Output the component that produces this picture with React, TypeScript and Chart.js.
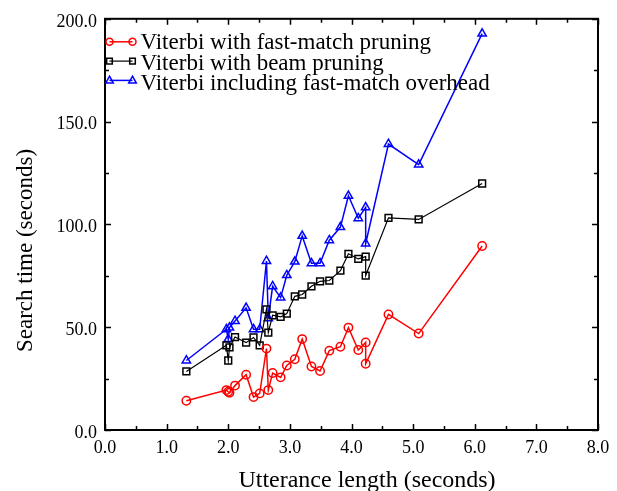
import { useEffect, useRef } from "react";
import { Chart, registerables } from "chart.js";

Chart.register(...registerables);

// Utterance length (seconds), shared x values of all three series
const utteranceLength = [
  1.32, 1.97, 2.0, 2.02, 2.11, 2.29, 2.41, 2.51, 2.62, 2.65, 2.72, 2.85, 2.95,
  3.08, 3.2, 3.35, 3.49, 3.64, 3.82, 3.95, 4.11, 4.23, 4.23, 4.6, 5.09, 6.12,
];

// Search time (seconds)
const fastMatchPruning = [
  14.2, 19.4, 18.6, 18.1, 21.6, 26.9, 16.0, 17.8, 39.6, 19.4, 27.7, 25.6, 31.4,
  34.4, 44.2, 30.9, 28.7, 38.6, 40.5, 49.8, 38.9, 42.6, 32.2, 56.2, 46.9, 89.5,
];
const beamPruning = [
  28.5, 41.2, 33.8, 40.2, 45.2, 42.5, 45.0, 41.2, 58.7, 47.4, 55.8, 55.0, 56.6,
  65.0, 65.9, 69.9, 72.3, 72.7, 77.5, 85.7, 83.2, 84.3, 75.1, 103.2, 102.4, 119.9,
];
const fastMatchOverhead = [
  33.8, 49.0, 44.2, 49.8, 53.0, 59.4, 49.0, 49.0, 82.2, 54.3, 69.9, 64.4, 75.3,
  81.9, 94.4, 81.1, 81.1, 92.3, 98.7, 113.9, 103.0, 108.3, 90.7, 139.1, 129.1, 192.8,
];

const seriesLabels = [
  "Viterbi with fast-match pruning",
  "Viterbi with beam pruning",
  "Viterbi including fast-match overhead",
];
const seriesColors = ["#ff0000", "#000000", "#0000ff"];
const seriesStyles = ["circle", "rect", "triangle"];

const xTitle = "Utterance length (seconds)";
const yTitle = "Search time (seconds)";

const xMajorTicks = [0, 1, 2, 3, 4, 5, 6, 7, 8];
const xMinorTicks = [0.5, 1.5, 2.5, 3.5, 4.5, 5.5, 6.5, 7.5];
const yMajorTicks = [0, 50, 100, 150, 200];
const yMinorTicks = [25, 75, 125, 175];

const FONT = '"Liberation Serif", "Times New Roman", serif';

function drawMarker(ctx: CanvasRenderingContext2D, style: string, x: number, y: number, s: number) {
  ctx.beginPath();
  if (style === "circle") {
    ctx.arc(x, y, s, 0, Math.PI * 2);
  } else if (style === "rect") {
    ctx.rect(x - s, y - s, 2 * s, 2 * s);
  } else {
    ctx.moveTo(x, y - s * 1.1);
    ctx.lineTo(x + s, y + s * 0.7);
    ctx.lineTo(x - s, y + s * 0.7);
    ctx.closePath();
  }
  ctx.stroke();
}

const framePlugin = {
  id: "frame",
  afterDraw(chart: any) {
    const { ctx, chartArea: a, scales } = chart;
    const xs = scales.x;
    const ys = scales.y;
    ctx.save();
    ctx.strokeStyle = "#000";
    ctx.lineWidth = 2;
    ctx.strokeRect(a.left, a.top, a.right - a.left, a.bottom - a.top);
    ctx.lineWidth = 1.5;
    const tick = (vals: number[], len: number, horiz: boolean) => {
      for (const v of vals) {
        ctx.beginPath();
        if (horiz) {
          const px = Math.round(xs.getPixelForValue(v)) + 0.5;
          ctx.moveTo(px, a.bottom);
          ctx.lineTo(px, a.bottom - len);
          ctx.moveTo(px, a.top);
          ctx.lineTo(px, a.top + len);
        } else {
          const py = Math.round(ys.getPixelForValue(v)) + 0.5;
          ctx.moveTo(a.left, py);
          ctx.lineTo(a.left + len, py);
          ctx.moveTo(a.right, py);
          ctx.lineTo(a.right - len, py);
        }
        ctx.stroke();
      }
    };
    tick(xMajorTicks, 6, true);
    tick(xMinorTicks, 4, true);
    tick(yMajorTicks, 6, false);
    tick(yMinorTicks, 4, false);

    // axis titles
    ctx.fillStyle = "#000";
    ctx.textAlign = "center";
    ctx.textBaseline = "alphabetic";
    ctx.font = `24px ${FONT}`;
    ctx.fillText(xTitle, 367, 486.5);
    ctx.font = `23px ${FONT}`;
    ctx.save();
    ctx.translate(32, 250.5);
    ctx.rotate(-Math.PI / 2);
    ctx.fillText(yTitle, 0, 0);
    ctx.restore();

    // legend inside the plot
    ctx.font = `23px ${FONT}`;
    ctx.textAlign = "left";
    const x0 = a.left + 4.5;
    const x1 = a.left + 27.5;
    seriesLabels.forEach((label, i) => {
      const my = a.top + 23 + i * 19.3;
      ctx.strokeStyle = seriesColors[i];
      ctx.lineWidth = i === 1 ? 1.2 : 1.5;
      ctx.beginPath();
      ctx.moveTo(x0, my);
      ctx.lineTo(x1, my);
      ctx.stroke();
      ctx.lineWidth = 1.5;
      const s = i === 0 ? 3.5 : i === 1 ? 2.8 : 3.8;
      drawMarker(ctx, seriesStyles[i], x0, my, s);
      drawMarker(ctx, seriesStyles[i], x1, my, s);
      ctx.fillStyle = "#000";
      ctx.fillText(label, a.left + 35.5, a.top + 30 + i * 20.8);
    });
    ctx.restore();
  },
};

function makeData(ys: number[]) {
  return utteranceLength.map((x, i) => ({ x, y: ys[i] }));
}

export default function App() {
  const ref = useRef<HTMLCanvasElement | null>(null);

  useEffect(() => {
    document.body.style.margin = "0";
    const canvas = ref.current;
    if (!canvas) return;
    const series = [fastMatchPruning, beamPruning, fastMatchOverhead];
    const chart = new Chart(canvas, {
      type: "line",
      data: {
        datasets: series.map((ys, i) => ({
          label: seriesLabels[i],
          data: makeData(ys),
          borderColor: seriesColors[i],
          borderWidth: i === 1 ? 1.2 : 1.5,
          pointStyle: seriesStyles[i] as any,
          pointRadius: i === 0 ? 4.2 : i === 1 ? 4.8 : 4.8,
          pointBorderWidth: 1.5,
          pointBorderColor: seriesColors[i],
          pointBackgroundColor: "rgba(0,0,0,0)",
          fill: false,
          tension: 0,
          clip: false as any,
        })),
      },
      options: {
        responsive: false,
        animation: false,
        layout: { padding: { left: 0, right: 19, top: 16, bottom: 0 } },
        plugins: {
          legend: { display: false },
          tooltip: { enabled: false },
        },
        scales: {
          x: {
            type: "linear",
            min: 0,
            max: 8,
            grid: { display: false, drawTicks: false },
            border: { display: false },
            ticks: {
              stepSize: 1,
              autoSkip: false,
              maxRotation: 0,
              padding: 7,
              color: "#000",
              font: { family: FONT, size: 18 },
              callback: (v: any) => Number(v).toFixed(1),
            },
            afterFit: (s: any) => {
              s.height = 61;
            },
          },
          y: {
            type: "linear",
            min: 0,
            max: 200,
            grid: { display: false, drawTicks: false },
            border: { display: false },
            ticks: {
              stepSize: 50,
              padding: 8,
              labelOffset: 3,
              color: "#000",
              font: { family: FONT, size: 18 },
              callback: (v: any) => Number(v).toFixed(1),
            },
            afterFit: (s: any) => {
              s.width = 105;
            },
          },
        },
      },
      plugins: [framePlugin],
    });
    return () => chart.destroy();
  }, []);

  return (
    <div style={{ position: "absolute", left: 0, top: 0, width: 617, height: 491 }}>
      <canvas ref={ref} width={617} height={491} style={{ display: "block" }} />
    </div>
  );
}
